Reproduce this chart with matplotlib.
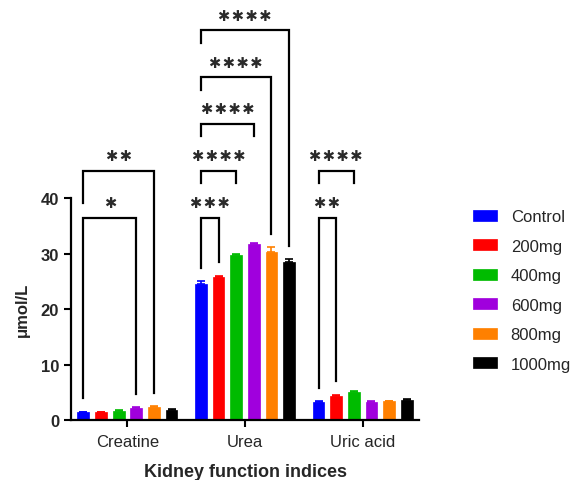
import matplotlib
matplotlib.use("Agg")
import matplotlib.pyplot as plt
import numpy as np

plt.rcParams['font.family'] = ['Liberation Sans', 'DejaVu Sans']

categories = ["Creatine", "Urea", "Uric acid"]
series = ["Control", "200mg", "400mg", "600mg", "800mg", "1000mg"]
colors = ["#0000ff", "#ff0000", "#00bb00", "#a000dd", "#ff8000", "#000000"]

# values per series: [Creatine, Urea, Uric acid]
control = [1.4, 24.5, 3.2]
mg200 = [1.4, 25.8, 4.4]
mg400 = [1.7, 29.8, 5.0]
mg600 = [2.2, 31.7, 3.2]
mg800 = [2.4, 30.3, 3.4]
mg1000 = [1.8, 28.4, 3.6]
values = [control, mg200, mg400, mg600, mg800, mg1000]

err_control = [0.1, 0.5, 0.15]
err_200 = [0.1, 0.2, 0.15]
err_400 = [0.1, 0.2, 0.15]
err_600 = [0.15, 0.15, 0.15]
err_800 = [0.1, 0.9, 0.1]
err_1000 = [0.15, 0.6, 0.1]
errors = [err_control, err_200, err_400, err_600, err_800, err_1000]

# significance brackets: (group, series_from, series_to, label, tier, left_leg, right_leg)
brackets = [
    (0, 0, 3, "*", 0, "bar", "bar"),
    (0, 0, 4, "**", 1, "lower", "bar"),
    (1, 0, 1, "***", 0, "bar", "bar"),
    (1, 0, 2, "****", 1, "short", "short"),
    (1, 0, 3, "****", 2, "short", "short"),
    (1, 0, 4, "****", 3, "short", "bar"),
    (1, 0, 5, "****", 4, "short", "bar"),
    (2, 0, 1, "**", 0, "bar", "bar"),
    (2, 0, 2, "****", 1, "short", "short"),
]

fig = plt.figure(figsize=(5.76, 4.81), dpi=100)
ax = fig.add_axes([0.1233, 0.1247, 0.6042, 0.4615])

step = 0.15
bw = 0.1
x = np.arange(len(categories))
handles = []
for i, (vals, errs, c) in enumerate(zip(values, errors, colors)):
    xs = x + (i - 2.5) * step
    h = ax.bar(xs, vals, width=bw, color=c, edgecolor=c, linewidth=0.5, zorder=2, label=series[i])
    ax.errorbar(xs, vals, yerr=[np.zeros(len(errs)), errs], fmt="none", ecolor=c,
                elinewidth=1.2, capsize=3, capthick=1.2, zorder=3)
    handles.append(h)

txt = "#262626"
ax.set_xlim(-0.48, 2.48)
ax.set_ylim(0, 40)
ax.set_yticks([0, 10, 20, 30, 40])
ax.set_xticks(x)
ax.set_xticklabels(categories, fontsize=12, color=txt)
for lbl in ax.get_yticklabels():
    lbl.set_fontweight("bold")
    lbl.set_fontsize(12)
    lbl.set_color(txt)
ax.tick_params(axis="both", width=1.5, length=5, direction="out")
ax.tick_params(axis="x", pad=5)
for s in ["top", "right"]:
    ax.spines[s].set_visible(False)
for s in ["left", "bottom"]:
    ax.spines[s].set_linewidth(1.6)
ax.spines["bottom"].set_zorder(5)
ax.set_ylabel("μmol/L", fontsize=12, fontweight="bold", labelpad=8, color=txt)
ax.set_xlabel("Kidney function indices", fontsize=13, fontweight="bold", labelpad=10, color=txt)

# bracket drawing
tier0 = 36.4
tier_step = 8.45
gap = 2.4
short_len = 2.2
lower_gap = 2.7
for (g, a, b, lab, tier, lmode, rmode) in brackets:
    y = tier0 + tier * tier_step
    xa = g + (a - 2.5) * step
    xb = g + (b - 2.5) * step

    def leg_end(si, mode):
        if mode == "bar":
            return values[si][g] + errors[si][g] + gap
        if mode == "short":
            return y - short_len
        return y - tier_step + lower_gap

    ya = leg_end(a, lmode)
    yb = leg_end(b, rmode)
    ax.plot([xa, xa, xb, xb], [ya, y, y, yb], color="black", lw=1.6,
            solid_joinstyle="miter", clip_on=False, zorder=4)
    ax.annotate("\u200a".join(["\u2731"] * len(lab)), xy=((xa + xb) / 2, y), xytext=(0, 11),
                textcoords="offset points", ha="center", va="center",
                fontsize=10.5, family=["DejaVu Sans"], color="#2a2a2a",
                annotation_clip=False)

fig.legend(handles=handles, labels=series, loc="upper left",
           bbox_to_anchor=(0.81, 0.577), frameon=False, fontsize=12,
           labelcolor=txt,
           handlelength=1.45, handleheight=0.66, handletextpad=0.8,
           labelspacing=0.87, borderaxespad=0)

fig.savefig("out.png", dpi=100)
